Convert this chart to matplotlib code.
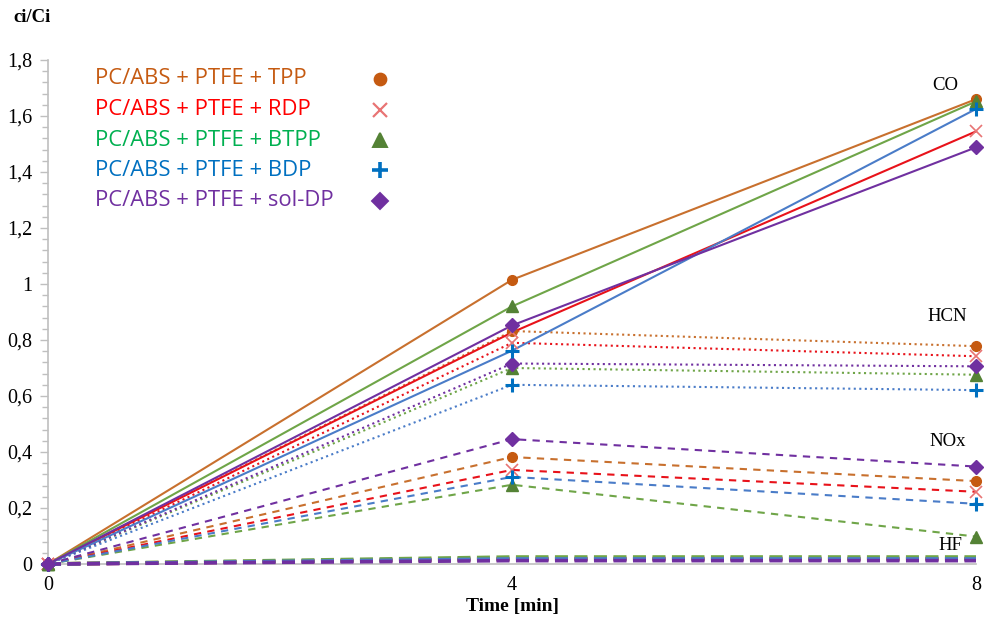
import matplotlib
matplotlib.use("Agg")
import matplotlib.pyplot as plt
from matplotlib.ticker import MultipleLocator, FuncFormatter

time = [0, 4, 8]

series = ["PC/ABS + PTFE + TPP", "PC/ABS + PTFE + RDP", "PC/ABS + PTFE + BTPP",
          "PC/ABS + PTFE + BDP", "PC/ABS + PTFE + sol-DP"]

# one row per series, same order as above
co = [[0, 1.015, 1.66], [0, 0.827, 1.545], [0, 0.92, 1.652],
      [0, 0.762, 1.625], [0, 0.852, 1.488]]
hcn = [[0, 0.832, 0.778], [0, 0.79, 0.742], [0, 0.70, 0.676],
       [0, 0.64, 0.621], [0, 0.716, 0.706]]
nox = [[0, 0.382, 0.296], [0, 0.336, 0.258], [0, 0.283, 0.098],
       [0, 0.311, 0.215], [0, 0.446, 0.348]]
hf = [[0, 0.02, 0.02], [0, 0.016, 0.016], [0, 0.025, 0.025],
      [0, 0.018, 0.018], [0, 0.012, 0.012]]

line_colors = ["#C8702E", "#E8121A", "#6FA548", "#4A7CC8", "#7030A0"]
marker_colors = ["#C55A11", "#E87474", "#548235", "#0070C0", "#7030A0"]
text_colors = ["#C55A11", "#FF0000", "#00B050", "#0070C0", "#7030A0"]
markers = ["o", "x", "^", "+", "D"]
msizes = [7, 8, 8, 10, 7]
mews = [1, 1.2, 1, 2.2, 1]

fig = plt.figure(figsize=(9.94, 6.25), dpi=100)
ax = fig.add_axes([48 / 994, 1 - 564 / 625, (976 - 48) / 994, (564 - 60) / 625])

def draw(data, ls, lw, with_markers=True, dashes=None):
    for i in range(len(series)):
        kw = dict(color=line_colors[i], lw=lw, ls=ls, clip_on=False, zorder=3)
        if dashes is not None:
            kw["dashes"] = dashes
        ax.plot(time, data[i], **kw)
        if with_markers:
            ax.plot(time, data[i], ls="none", marker=markers[i], ms=msizes[i],
                    mew=mews[i], color=marker_colors[i], clip_on=False, zorder=4)

draw(hf, "--", 2.6, with_markers=False, dashes=(3.6, 1.8))
draw(nox, "--", 1.5, dashes=(3.5, 3))
draw(hcn, ":", 1.5)
draw(co, "-", 1.5)

ax.set_xlim(0, 8)
ax.set_ylim(0, 1.8)
ax.set_xticks([0, 4, 8])
ax.yaxis.set_major_locator(MultipleLocator(0.2))
ax.yaxis.set_minor_locator(MultipleLocator(0.04))
ax.yaxis.set_major_formatter(FuncFormatter(lambda v, p: f"{v:g}".replace(".", ",")))
for s in ["top", "right"]:
    ax.spines[s].set_visible(False)
for s in ["left", "bottom"]:
    ax.spines[s].set_color("#BFBFBF")
    ax.spines[s].set_linewidth(1.2)
ax.tick_params(axis="y", which="major", length=6, color="#BFBFBF", width=1,
               labelsize=14.5, pad=5)
ax.tick_params(axis="y", which="minor", length=4, color="#BFBFBF", width=1)
ax.tick_params(axis="x", length=0, labelsize=14.5, pad=9)
for lab in ax.get_xticklabels() + ax.get_yticklabels():
    lab.set_family("Liberation Serif")

serif = "Liberation Serif"
fig.text(13 / 994, 1 - 18 / 625, "ci/Ci", family=serif, weight="bold",
         fontsize=13.5, va="center", ha="left")
fig.text(512 / 994, 1 - 607 / 625, "Time [min]", family=serif, weight="bold",
         fontsize=14, va="center", ha="center")

gas_labels = ["CO", "HCN", "NOx", "HF"]
gas_pos = [(945, 86), (947, 316), (948, 442), (950, 546)]
for g, (px, py) in zip(gas_labels, gas_pos):
    fig.text(px / 994, 1 - py / 625, g, family=serif, fontsize=13.5,
             ha="center", va="center")

# legend drawn by hand: coloured text on the left, marker column on the right
for i, name in enumerate(series):
    y = 1 - (79 + 30.5 * i) / 625
    fig.text(95 / 994, y, name, family="Open Sans", fontsize=15.8,
             color=text_colors[i], ha="left", va="center")
    ax.plot([380 / 994], [y], transform=fig.transFigure, ls="none",
            marker=markers[i], ms=msizes[i] + 1.5, mew=mews[i] + 0.4,
            color=marker_colors[i], clip_on=False)

fig.savefig("out.png", dpi=100)
